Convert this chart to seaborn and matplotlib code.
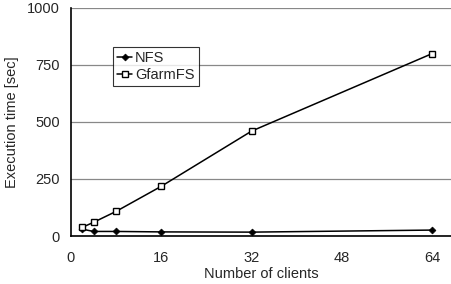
import matplotlib
matplotlib.use('Agg')
import matplotlib.pyplot as plt
import seaborn as sns
import pandas as pd

clients = [2, 4, 8, 16, 32, 64]
nfs = [30, 20, 20, 18, 17, 26]
gfarm = [38, 60, 108, 218, 460, 800]

df = pd.DataFrame({'clients': clients * 2,
                   'time': nfs + gfarm,
                   'fs': ['NFS'] * len(clients) + ['GfarmFS'] * len(clients)})

sns.set_style('white')
plt.rcParams['font.family'] = ['Liberation Sans', 'DejaVu Sans']

fig = plt.figure(figsize=(4.52, 2.84), dpi=100)
ax = fig.add_axes([0.157, 0.169, 0.843, 0.803])

sns.lineplot(data=df, x='clients', y='time', hue='fs', style='fs',
             markers={'NFS': 'D', 'GfarmFS': 's'}, dashes=False,
             palette={'NFS': 'black', 'GfarmFS': 'black'}, linewidth=1.1,
             ax=ax)


def fix_marker(line):
    line.set_markeredgecolor('black')
    if line.get_marker() == 's':
        line.set_markerfacecolor('white')
        line.set_markersize(5)
        line.set_markeredgewidth(1)
    else:
        line.set_markerfacecolor('black')
        line.set_markersize(3.5)
        line.set_markeredgewidth(0.5)


for line in ax.lines:
    fix_marker(line)

ax.set_xlim(0, 67.5)
ax.set_ylim(0, 1000)
ax.set_xticks([0, 16, 32, 48, 64])
ax.set_yticks([0, 250, 500, 750, 1000])
ax.yaxis.grid(True, color='#888888', linewidth=0.9)
ax.set_axisbelow(True)
for s in ['top', 'right']:
    ax.spines[s].set_visible(False)
for s in ['left', 'bottom']:
    ax.spines[s].set_color('black')
    ax.spines[s].set_linewidth(1.2)
ax.tick_params(axis='y', length=0, labelsize=10.5, pad=8)
ax.tick_params(axis='x', length=0, labelsize=10.5, pad=11)
ax.set_xlabel('Number of clients', fontsize=10.5, labelpad=1)
ax.set_ylabel('Execution time [sec]', fontsize=10.5, labelpad=6)

handles, labels = ax.get_legend_handles_labels()
for h in handles:
    fix_marker(h)
leg = ax.legend(handles, labels, loc='upper left', bbox_to_anchor=(0.11, 0.83),
                frameon=True, fancybox=False, edgecolor='black', fontsize=10.5,
                handlelength=1.0, handletextpad=0.2, borderpad=0.3,
                labelspacing=0.2, borderaxespad=0)
leg.get_frame().set_linewidth(0.8)

fig.savefig('out.png', dpi=100)
